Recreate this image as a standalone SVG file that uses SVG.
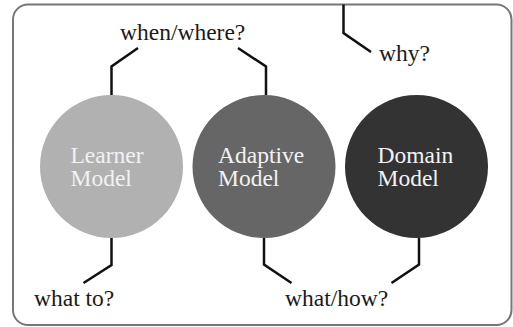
<svg xmlns="http://www.w3.org/2000/svg" width="513" height="327" viewBox="0 0 513 327">
  <style>
    .frame { fill: #ffffff; stroke: #777777; stroke-width: 2; }
    .lbl { font-family: "Liberation Serif", "Times New Roman", serif; font-size: 23.5px; fill: #1a1a1a; }
    .inner { font-family: "Liberation Serif", "Times New Roman", serif; font-size: 23.5px; fill: #f2f2f2; }
    .link { fill: none; stroke: #111111; stroke-width: 2.5; stroke-linejoin: miter; }
  </style>
  <rect width="513" height="327" fill="#ffffff"/>
  <rect class="frame" x="13" y="4.5" width="498.5" height="320.5" rx="15" ry="15"/>

  <!-- model circles -->
  <g id="learner-model">
    <circle cx="111.5" cy="166.5" r="71.5" fill="#b1b1b1"/>
    <text class="inner" x="70.5" y="162.5">Learner</text>
    <text class="inner" x="70.5" y="186">Model</text>
  </g>
  <g id="adaptive-model">
    <circle cx="264" cy="166.5" r="71.5" fill="#666666"/>
    <text class="inner" x="218" y="162.5">Adaptive</text>
    <text class="inner" x="218" y="186">Model</text>
  </g>
  <g id="domain-model">
    <circle cx="416.5" cy="166.5" r="71.5" fill="#333333"/>
    <text class="inner" x="377.5" y="162.5">Domain</text>
    <text class="inner" x="377.5" y="186">Model</text>
  </g>

  <!-- question connectors -->
  <g id="connectors">
    <polyline class="link" points="111.5,95 111.5,66.5 138,48"/>
    <polyline class="link" points="238,48 266,66.5 266,95"/>
    <polyline class="link" points="343.5,4.5 343.5,33 371,52"/>
    <polyline class="link" points="111.5,238 111.5,265 83.5,283"/>
    <polyline class="link" points="264,238 264,264.5 291.5,283"/>
    <polyline class="link" points="419,238 419,264.5 391.5,283"/>
  </g>

  <!-- question labels -->
  <g id="labels">
    <text class="lbl" x="120" y="39.5">when/where?</text>
    <text class="lbl" x="379" y="61">why?</text>
    <text class="lbl" x="34" y="306">what to?</text>
    <text class="lbl" x="285" y="306">what/how?</text>
  </g>
</svg>
